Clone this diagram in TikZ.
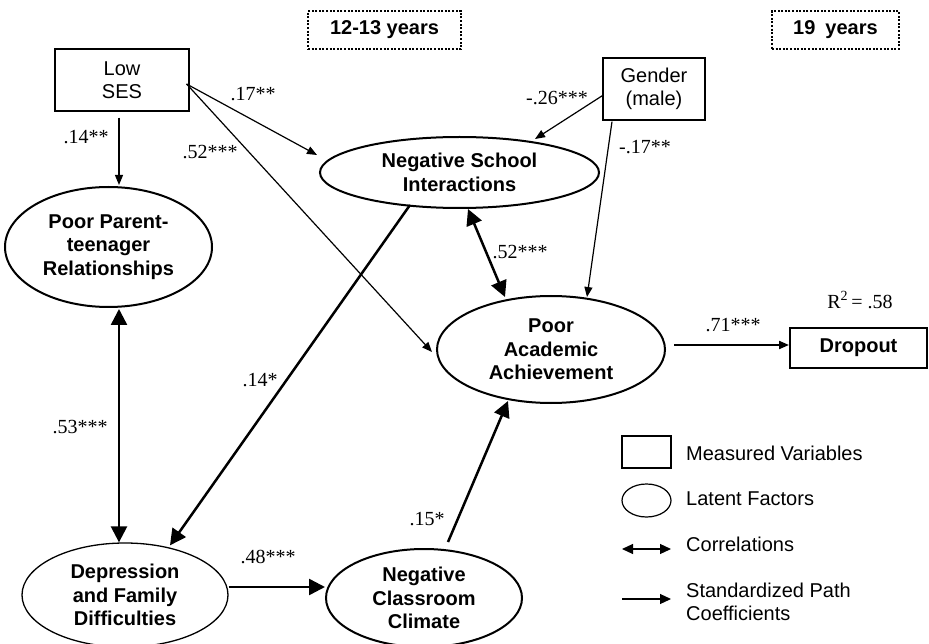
\documentclass[tikz,border=0pt]{standalone}
\usepackage{fontspec}
\setmainfont{Liberation Serif}
\setsansfont{Liberation Sans}
\usetikzlibrary{shapes.geometric,arrows.meta,calc}
\tikzset{
  sf/.style={font=\sffamily\fontsize{20}{23.5}\selectfont, align=center},
  sfb/.style={font=\sffamily\bfseries\fontsize{20}{23.5}\selectfont, align=center},
  meas/.style={sf, draw, line width=1.2pt, rectangle, inner sep=0pt},
  lat/.style={sfb, draw, line width=2pt, ellipse, inner sep=0pt},
  agebox/.style={sfb, draw, line width=1.8pt, dash pattern=on 2pt off 1.6pt, rectangle, inner sep=0pt},
  lab/.style={font=\rmfamily\fontsize{20}{23}\selectfont, inner sep=0pt},
  thinarr/.style={line width=1.2pt, -{Triangle[length=10pt,width=8pt]}},
  thickarr/.style={line width=2.5pt, -{Triangle[length=16pt,width=16pt]}},
  thickdbl/.style={line width=2.5pt, {Triangle[length=16pt,width=16pt]}-{Triangle[length=16pt,width=16pt]}},
  legtext/.style={sf, anchor=west, align=left, inner sep=0pt},
}
\begin{document}
\begin{tikzpicture}[x=1pt,y=-1pt]
\useasboundingbox (0,0) rectangle (929,644);
% age boxes
\node[agebox, minimum width=153pt, minimum height=38pt] (age1) at (384.5,30) {12-13 years};
\node[agebox, minimum width=127pt, minimum height=38pt] (age2) at (835.5,30) {19\enspace years};
% measured
\node[meas, minimum width=134pt, minimum height=62pt] (lowses) at (122,80) {Low\\SES};
\node[meas, minimum width=102pt, minimum height=62pt] (gender) at (654,89) {Gender\\(male)};
\node[meas, sfb, line width=2pt, minimum width=137pt, minimum height=40pt] (dropout) at (858.5,348) {Dropout};
% latent
\node[lat, minimum width=279pt, minimum height=71pt] (nsi) at (459.5,172.5) {Negative School\\Interactions};
\node[lat, minimum width=207pt, minimum height=120pt] (ppr) at (108.5,247) {Poor Parent-\\teenager\\Relationships};
\node[lat, minimum width=228pt, minimum height=107pt] (paa) at (551,349.5) {Poor\\Academic\\Achievement};
\node[lat, line width=1.3pt, minimum width=206pt, minimum height=104pt] (dep) at (125,595) {Depression\\and Family\\Difficulties};
\node[lat, minimum width=196pt, minimum height=98pt] (ncc) at (424,598) {Negative\\Classroom\\Climate};
% paths
\draw[thinarr] ($(lowses.south)+(-3,6)$) -- ($(ppr.north)+(10.5,-1)$);
\draw[thinarr] ($(lowses.east)+(-3,4)$) -- ($(nsi.west)+(-2,-17.5)$);
\draw[thinarr] ($(lowses.east)+(-3,4)$) -- ($(paa.west)+(-4,2.5)$);
\draw[thinarr] ($(gender.west)+(1,6)$) -- ($(nsi.north)+(75.5,3)$);
\draw[thinarr] ($(gender.south)+(-42,1)$) -- ($(paa.north)+(36,2)$);
\draw[thickdbl] ($(nsi.south)+(8.5,0)$) -- ($(paa.north)+(-46,2)$);
\draw[thickarr] ($(nsi.south)+(-49.5,-4)$) -- ($(dep.north)+(45,3)$);
\draw[thickdbl] ($(ppr.south)+(10.5,1)$) -- ($(dep.north)+(-6,0)$);
\draw[thickarr] ($(dep.east)+(0,-8)$) -- ($(ncc.west)+(0,-11)$);
\draw[thickarr] ($(ncc.north)+(24,-6)$) -- ($(paa.south)+(-43,-3)$);
\draw[line width=2pt, -{Triangle[length=10pt,width=8pt]}] ($(paa.east)+(8,-4.5)$) -- ($(dropout.west)+(0,-3)$);
% labels
\node[lab] (l1) at (86,137) {.14**};
\node[lab] (l2) at (253,94) {.17**};
\node[lab] (l3) at (210,152) {.52***};
\node[lab] (l4) at (557,98) {-.26***};
\node[lab] (l5) at (645,147) {-.17**};
\node[lab] (l6) at (520,252) {.52***};
\node[lab] (l7) at (260,380) {.14*};
\node[lab] (l8) at (80,427) {.53***};
\node[lab] (l9) at (268,557) {.48***};
\node[lab] (l10) at (427,519) {.15*};
\node[lab] (l11) at (733,325) {.71***};
\node[lab] (r2) at (860,300) {R\textsuperscript{2}\,= .58};
% legend
\node[draw, line width=1.2pt, rectangle, minimum width=49pt, minimum height=32pt, inner sep=0pt] (legrect) at (646.5,452) {};
\node[draw, line width=1.2pt, ellipse, minimum width=49pt, minimum height=33pt, inner sep=0pt] (legell) at (646.5,500.5) {};
\coordinate (lc1) at (622,549);
\coordinate (lc2) at (671,549);
\coordinate (lp1) at (622,599);
\coordinate (lp2) at (671,599);
\draw[line width=1.2pt, {Triangle[length=11pt,width=10pt]}-{Triangle[length=11pt,width=10pt]}] (lc1) -- (lc2);
\draw[line width=1.2pt, -{Triangle[length=11pt,width=10pt]}] (lp1) -- (lp2);
\node[legtext] (t1) at (686,453) {Measured Variables};
\node[legtext] (t2) at (686,499) {Latent Factors};
\node[legtext] (t3) at (686,544) {Correlations};
\node[legtext] (t4) at (686,602) {Standardized Path\\Coefficients};
\end{tikzpicture}
\end{document}
